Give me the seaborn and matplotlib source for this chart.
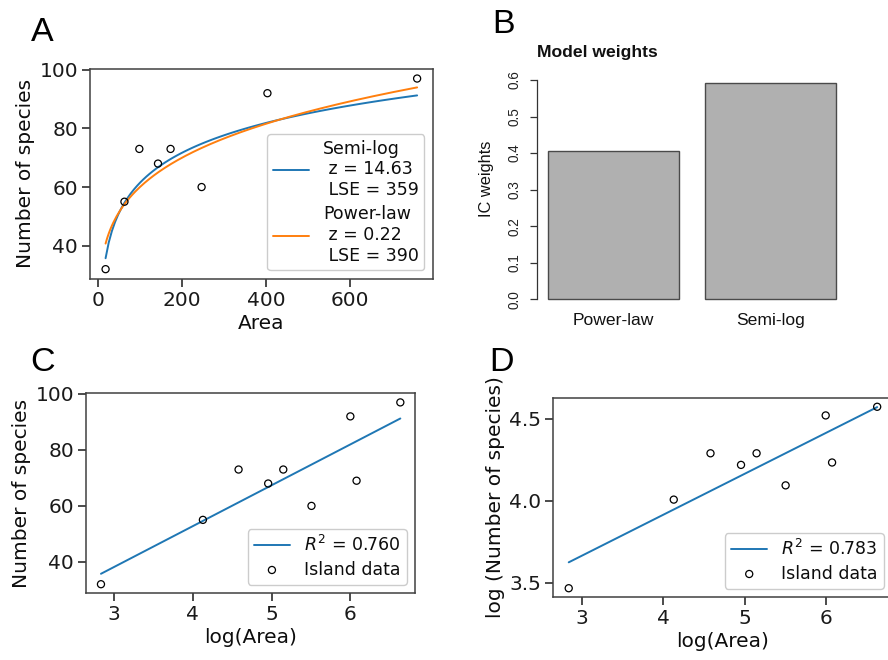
import numpy as np
import pandas as pd
import matplotlib
matplotlib.use("Agg")
import matplotlib.pyplot as plt
import seaborn as sns

# ---------------- data ----------------
island_area = [17, 62, 97.5, 142, 172, 246, 403, 436, 760]
species = [32, 55, 73, 68, 73, 60, 92, 69, 97]
models = ["Power-law", "Semi-log"]
ic_weights = [0.407, 0.593]
semilog_label = "Semi-log\n z = 14.63\n LSE = 359"
power_label = "Power-law\n z = 0.22\n LSE = 390"
power_z = 0.22
r2_label_c = "$R^2$ = 0.760"
r2_label_d = "$R^2$ = 0.783"
scatter_label = "Island data"

area = np.array(island_area, dtype=float)
S = np.array(species, dtype=float)
log_area = np.log(area)
log_S = np.log(S)

sns.set_theme(style="ticks")
plt.rcParams["font.family"] = ["DejaVu Sans"]
plt.rcParams.update({
    "axes.edgecolor": "0.25",
    "axes.linewidth": 1.1,
    "xtick.color": "0.1",
    "ytick.color": "0.1",
    "xtick.major.size": 5.5,
    "ytick.major.size": 5.5,
    "xtick.major.width": 1.1,
    "ytick.major.width": 1.1,
    "xtick.major.pad": 3.0,
    "ytick.major.pad": 3.0,
    "xtick.labelsize": 14.5,
    "ytick.labelsize": 14.5,
    "axes.labelsize": 14.5,
    "axes.labelcolor": "0.05",
    "text.color": "0.05",
    "legend.fontsize": 12.5,
})

W, H = 888, 660
fig = plt.figure(figsize=(W / 100, H / 100), dpi=100)


def rect(left, top, right, bottom):
    return [left / W, 1 - bottom / H, (right - left) / W, (bottom - top) / H]


pt_kws = dict(facecolor="none", edgecolor="black", s=26, linewidth=0.9, zorder=3)

# ---------------- Panel A ----------------
axA = fig.add_axes(rect(90, 69, 432.7, 278.7))
sns.regplot(x=area, y=S, logx=True, ci=None, scatter=False, ax=axA,
            label=semilog_label, line_kws=dict(color="#1f77b4", lw=1.4))
# power-law: least squares constant for the reported exponent
c_pow = np.sum(S * area ** power_z) / np.sum(area ** (2 * power_z))
grid = np.linspace(area.min(), area.max(), 200)
sns.lineplot(x=grid, y=c_pow * grid ** power_z, ax=axA, color="#ff7f0e", lw=1.4,
             label=power_label)
sns.scatterplot(x=area, y=S, ax=axA, legend=False, **pt_kws)
axA.set_xticks([0, 200, 400, 600])
axA.set_yticks([40, 60, 80, 100])
axA.set_xlabel("Area", labelpad=3)
axA.set_ylabel("Number of species", labelpad=3)
axA.legend(loc="lower right", framealpha=1, handlelength=2.1, handletextpad=0.8,
           borderpad=0.3, labelspacing=0.35)

# ---------------- Panel C ----------------
axC = fig.add_axes(rect(86, 393.3, 415.3, 593.3))
sns.regplot(x=log_area, y=S, ci=None, scatter=False, ax=axC,
            label=r2_label_c, line_kws=dict(color="#1f77b4", lw=1.4))
sns.scatterplot(x=log_area, y=S, ax=axC, label=scatter_label, **pt_kws)
axC.set_xticks([3, 4, 5, 6])
axC.set_yticks([40, 60, 80, 100])
axC.set_xlabel("log(Area)", labelpad=3)
axC.set_ylabel("Number of species", labelpad=3)
axC.legend(loc="lower right", framealpha=1, handlelength=2.1, handletextpad=0.8,
           borderpad=0.35, labelspacing=0.3)

# ---------------- Panel D ----------------
axD = fig.add_axes(rect(553.3, 397.7, 892.6, 597.3))
sns.regplot(x=log_area, y=log_S, ci=None, scatter=False, ax=axD,
            label=r2_label_d, line_kws=dict(color="#1f77b4", lw=1.4))
sns.scatterplot(x=log_area, y=log_S, ax=axD, label=scatter_label, **pt_kws)
axD.set_xticks([3, 4, 5, 6])
axD.set_yticks([3.5, 4.0, 4.5])
axD.set_xlabel("log(Area)", labelpad=3)
axD.set_ylabel("log (Number of species)", labelpad=3)
axD.legend(loc="lower right", framealpha=1, handlelength=2.1, handletextpad=0.8,
           borderpad=0.35, labelspacing=0.3)

# ---------------- Panel B (R style bar plot) ----------------
axB = fig.add_axes(rect(536.7, 73.8, 847, 308.1))
sns.barplot(x=models, y=ic_weights, ax=axB, color="#b0b0b0", saturation=1,
            width=0.8333, edgecolor="#4a4a4a", linewidth=1.0)
axB.set_xlim(-0.49, 1.49)
axB.set_ylim(-0.024, 0.617)
for side in ("top", "right", "bottom"):
    axB.spines[side].set_visible(False)
axB.spines["left"].set_bounds(0, 0.6)
axB.spines["left"].set_color("#333333")
axB.spines["left"].set_linewidth(0.9)
axB.set_yticks([0, 0.1, 0.2, 0.3, 0.4, 0.5, 0.6])
axB.set_yticklabels(["0.0", "0.1", "0.2", "0.3", "0.4", "0.5", "0.6"],
                    rotation=90, va="center")
axB.tick_params(axis="y", length=5.3, width=0.9, color="#333333", pad=6,
                labelsize=9.8, labelcolor="#222222", labelfontfamily="Liberation Sans")
axB.tick_params(axis="x", length=0, pad=3.5, labelsize=12.6, labelcolor="#111111",
                labelfontfamily="Liberation Sans")
axB.set_xlabel("")
axB.set_ylabel("IC weights", fontsize=11.8, family="Liberation Sans", color="#111111")
axB.yaxis.set_label_coords((494 - 536.7) / 310.3, 0.55)
axB.set_title("Model weights", loc="left", pad=12, fontsize=12.6, fontweight="bold",
              family="Liberation Sans", color="#111111")

# ---------------- panel letters ----------------
for letter, x, y in [("A", 30.5, 40.7), ("B", 492.5, 33.3), ("C", 29.8, 370.7), ("D", 489, 370.7)]:
    fig.text(x / W, 1 - y / H, letter, fontsize=24.5, family="Liberation Sans",
             color="black", ha="left", va="baseline")

fig.savefig("out.png", dpi=100)
